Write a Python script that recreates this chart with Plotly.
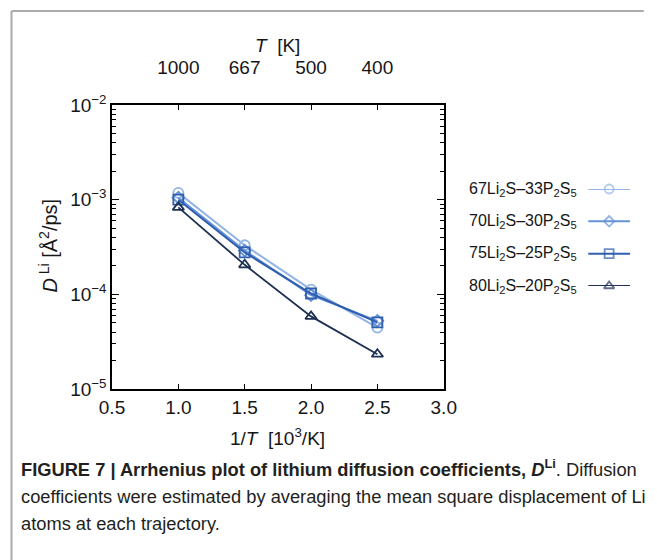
import plotly.graph_objects as go

# ---------------- data ----------------
inv_T = [1.0, 1.5, 2.0, 2.5]                 # 1/T  [10^3/K]
T_labels = [1000, 667, 500, 400]             # T [K]

series_names = [
    "67Li<sub>2</sub>S–33P<sub>2</sub>S<sub>5</sub>",
    "70Li<sub>2</sub>S–30P<sub>2</sub>S<sub>5</sub>",
    "75Li<sub>2</sub>S–25P<sub>2</sub>S<sub>5</sub>",
    "80Li<sub>2</sub>S–20P<sub>2</sub>S<sub>5</sub>",
]
D_67 = [1.18e-3, 3.3e-4, 1.12e-4, 4.45e-5]
D_70 = [1.05e-3, 2.9e-4, 0.98e-4, 5.25e-5]
D_75 = [1.00e-3, 2.77e-4, 1.02e-4, 5.05e-5]
D_80 = [8.3e-4, 2.05e-4, 5.85e-5, 2.33e-5]
series_values = [D_67, D_70, D_75, D_80]

colors = ["#93B4E6", "#6592D8", "#2F5FAE", "#1E3152"]
symbols = ["circle-open", "diamond-open", "square-open", "triangle-up-open"]
line_widths = [2, 2, 2, 1.8]
marker_sizes = [10, 9, 10, 10]

y_major = [1e-5, 1e-4, 1e-3, 1e-2]
y_major_text = ["10<sup>−5</sup>", "10<sup>−4</sup>", "10<sup>−3</sup>", "10<sup>−2</sup>"]
y_minor = [k * 10.0 ** e for e in (-5, -4, -3) for k in range(2, 10)]

FONT = "Liberation Sans, Arial, Helvetica, sans-serif"
TXT = "#161616"

# ---------------- layout geometry (pixels) ----------------
W, H = 657, 560
ML, MR, MT, MB = 112, 10, 105, 171
PW = W - ML - MR
PH = H - MT - MB
plot_right_px = 452


def px_x(px):
    return (px - ML) / PW


def px_y(py):
    return (H - MB - py) / PH


fig = go.Figure()

for name, vals, c, s, lw, ms in zip(series_names, series_values, colors, symbols, line_widths, marker_sizes):
    fig.add_trace(go.Scatter(
        x=inv_T, y=vals, mode="lines+markers", name=name,
        line=dict(color=c, width=lw),
        marker=dict(symbol=s, size=ms, color=c, line=dict(color=c, width=1.8)),
        showlegend=False, xaxis="x", yaxis="y",
    ))

# invisible trace to carry top axis
fig.add_trace(go.Scatter(x=[1000 / t for t in T_labels], y=[1e-3] * len(T_labels),
                         mode="markers", marker=dict(opacity=0), hoverinfo="skip",
                         showlegend=False, xaxis="x2", yaxis="y"))

# manual legend (symbol to the right of the text)
leg_y_px = [189, 221, 254, 286]
leg_step = (leg_y_px[-1] - leg_y_px[0]) / 3
for i, (name, c, s, lw, ms) in enumerate(zip(series_names, colors, symbols, line_widths, marker_sizes)):
    fig.add_trace(go.Scatter(
        x=[0, 0.5, 1], y=[i, i, i], mode="lines+markers",
        line=dict(color=c, width=lw), cliponaxis=False,
        marker=dict(symbol=s, size=[0, ms - 1, 0], color=c, line=dict(color=c, width=1.8)),
        showlegend=False, hoverinfo="skip", xaxis="x3", yaxis="y3",
    ))
    fig.add_annotation(x=px_x(591), y=px_y(leg_y_px[0] + i * leg_step), xref="paper", yref="paper",
                       text=name, xanchor="right", yanchor="middle", showarrow=False,
                       font=dict(family=FONT, size=16, color=TXT))

dom_x = [0, px_x(plot_right_px)]

axis_common = dict(showline=True, linecolor="black", linewidth=1.5, ticks="inside",
                   tickcolor="black", tickwidth=1.2, showgrid=False, zeroline=False,
                   tickfont=dict(family=FONT, size=19, color=TXT))

fig.update_layout(
    width=W, height=H,
    margin=dict(l=ML, r=MR, t=MT, b=MB),
    paper_bgcolor="white", plot_bgcolor="white",
    xaxis=dict(domain=dom_x, range=[0.5, 3.0], tickvals=[0.5, 1.0, 1.5, 2.0, 2.5, 3.0],
               ticktext=["0.5", "1.0", "1.5", "2.0", "2.5", "3.0"], ticklen=5,
               mirror=True, anchor="y", **axis_common),
    xaxis2=dict(domain=dom_x, range=[0.5, 3.0], overlaying="x", side="top", anchor="y",
                tickvals=[1000 / t for t in T_labels], ticktext=[str(t) for t in T_labels],
                ticklen=5, ticklabelstandoff=22, **axis_common),
    yaxis=dict(domain=[0, 1], type="log", range=[-5, -2], tickvals=y_major, ticktext=y_major_text,
               ticklen=7, mirror="ticks", anchor="x",
               minor=dict(tickmode="array", tickvals=y_minor, ticks="inside", ticklen=4,
                          tickcolor="black", tickwidth=1),
               **axis_common),
    xaxis3=dict(domain=[px_x(600), px_x(643)], range=[0, 1], visible=False, anchor="y3"),
    yaxis3=dict(domain=[px_y(leg_y_px[-1]), px_y(leg_y_px[0])], range=[3, 0],
                visible=False, anchor="x3"),
    font=dict(family=FONT, color=TXT),
)

# axis titles
fig.add_annotation(x=px_x(46), y=px_y(246), xref="paper", yref="paper",
                   text="<i>D</i><sup> Li</sup> [Å<sup>2</sup>/ps]", textangle=-90,
                   showarrow=False, xanchor="center", yanchor="middle",
                   font=dict(family=FONT, size=20, color=TXT))
fig.add_annotation(x=px_x(282), y=px_y(437), xref="paper", yref="paper",
                   text="1/<i>T</i>  [10<sup>3</sup>/K]", showarrow=False,
                   xanchor="center", yanchor="middle", font=dict(family=FONT, size=19, color=TXT))
fig.add_annotation(x=px_x(282), y=px_y(45), xref="paper", yref="paper",
                   text="<i>T</i>  [K]", showarrow=False,
                   xanchor="center", yanchor="middle", font=dict(family=FONT, size=19, color=TXT))

# caption
caption_lines = [
    "<b>FIGURE 7 | Arrhenius plot of lithium diffusion coefficients, <i>D</i><sup>Li</sup></b>. Diffusion",
    "coefficients were estimated by averaging the mean square displacement of Li",
    "atoms at each trajectory.",
]
for line, ypx in zip(caption_lines, [468, 496, 523]):
    fig.add_annotation(x=px_x(17), y=px_y(ypx), xref="paper", yref="paper", text=line,
                       showarrow=False, xanchor="left", yanchor="middle",
                       font=dict(family=FONT, size=18.3, color="#231f20"))

# frame (top and left edges of the figure box)
fig.add_shape(type="line", xref="paper", yref="paper", x0=px_x(9), y0=px_y(11), x1=px_x(657), y1=px_y(11),
              line=dict(color="#aaaaaa", width=2))
fig.add_shape(type="line", xref="paper", yref="paper", x0=px_x(9), y0=px_y(11), x1=px_x(9), y1=px_y(560),
              line=dict(color="#aaaaaa", width=2))

fig.write_html("out.html")
